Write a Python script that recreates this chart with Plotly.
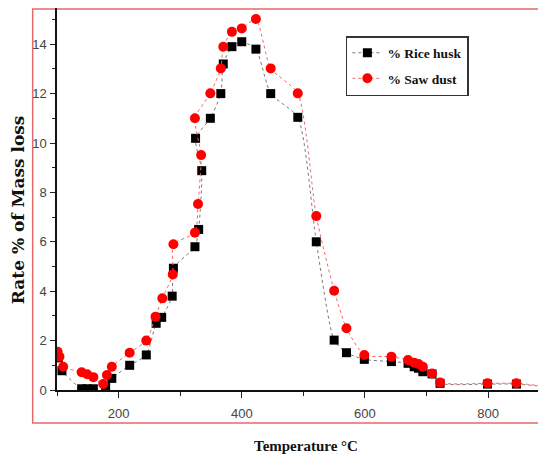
import plotly.graph_objects as go

# Data
rice_temp = [102, 108, 140, 149, 159, 179, 189, 218, 245, 261, 270, 287, 289, 324, 330, 335, 325,
             349, 366, 370, 384, 400, 423, 447, 491, 521, 550, 570, 599, 643, 670, 680, 687, 694,
             709, 722, 799, 846, 894]
rice_rate = [1.3, 0.78, 0.05, 0.05, 0.05, 0.13, 0.47, 1.0, 1.42, 2.7, 2.94, 3.8, 4.93, 5.8, 6.5,
             8.88, 10.19, 11.0, 12.0, 13.2, 13.9, 14.1, 13.8, 12.0, 11.04, 6.0, 2.02, 1.51, 1.24,
             1.15, 1.08, 0.94, 0.88, 0.74, 0.65, 0.27, 0.24, 0.24, 0.13]

saw_temp = [101, 104, 110, 140, 149, 159, 175, 181, 189, 218, 245, 260, 271, 288, 289, 324, 329,
            334, 324, 349, 366, 370, 384, 400, 423, 447, 491, 521, 550, 570, 599, 643, 670, 680,
            687, 694, 709, 722, 799, 846, 894]
saw_rate = [1.55, 1.35, 0.94, 0.72, 0.64, 0.52, 0.24, 0.61, 0.94, 1.51, 2.0, 2.97, 3.71, 4.68, 5.9,
            6.37, 7.53, 9.51, 11.0, 12.01, 13.02, 13.9, 14.5, 14.64, 15.02, 13.02, 12.01, 7.04,
            4.02, 2.5, 1.42, 1.35, 1.21, 1.1, 1.05, 0.94, 0.67, 0.3, 0.27, 0.27, 0.15]

series_names = ["% Rice husk", "% Saw dust"]
x_tickvals = [200, 400, 600, 800]
y_tickvals = [0, 2, 4, 6, 8, 10, 12, 14]

fig = go.Figure()
fig.add_trace(go.Scatter(
    x=rice_temp, y=rice_rate, name=series_names[0], mode="lines+markers",
    line=dict(color="#7a7a7a", width=1, dash="dot", shape="spline", smoothing=0.6),
    marker=dict(symbol="square", size=9, color="#000000"),
    legendgroup="a",
))
fig.add_trace(go.Scatter(
    x=saw_temp, y=saw_rate, name=series_names[1], mode="lines+markers",
    line=dict(color="#f06a6a", width=1, dash="dot", shape="spline", smoothing=0.6),
    marker=dict(symbol="circle", size=10, color="#ff0000"),
    legendgroup="b",
))

# page body has an 8px margin: work in reference pixels, shifted by OFF
OFF = 8
W, H = 538, 448
L, R, T, B = 49.3, 0, 0, 66
pw, ph = W - L - R, H - T - B

def px(xp):
    return (xp - OFF - L) / pw

def py(yp):
    return (H - B - (yp - OFF)) / ph

tickfont = dict(family="Liberation Sans Narrow, Arial Narrow, Liberation Sans, Arial", size=13, color="#444444")

fig.update_layout(
    template="none",
    width=W, height=H,
    margin=dict(l=L, r=R, t=T, b=B, pad=0),
    paper_bgcolor="white", plot_bgcolor="white",
    showlegend=True,
    legend=dict(
        x=px(346), y=py(36), xanchor="left", yanchor="top",
        bordercolor="#333333", borderwidth=1.5, bgcolor="white",
        font=dict(family="Liberation Serif, Times New Roman, serif", size=13.5, color="#111111", weight="bold"),
        tracegroupgap=5,
    ),
    xaxis=dict(
        range=[100, 894], autorange=False,
        tickvals=x_tickvals, ticks="outside", ticklen=6, tickwidth=1.2, tickcolor="#222",
        minor=dict(ticks="outside", ticklen=4, tickwidth=1.2, tickcolor="#222", dtick=100, tick0=100, showgrid=False),
        showline=True, linecolor="#111111", linewidth=1.5,
        showgrid=False, zeroline=False, automargin=False,
        tickfont=tickfont, ticklabelstandoff=5,
    ),
    yaxis=dict(
        range=[0, (H - B - T) / 24.7], autorange=False,
        tickvals=y_tickvals, ticks="outside", ticklen=5, tickwidth=1.2, tickcolor="#222",
        minor=dict(ticks="outside", ticklen=3, tickwidth=1.2, tickcolor="#222", dtick=1, tick0=0, showgrid=False),
        showline=True, linecolor="#111111", linewidth=1.5,
        showgrid=False, zeroline=False, automargin=False,
        tickfont=tickfont, ticklabelstandoff=1,
    ),
    shapes=[dict(
        type="rect", xref="paper", yref="paper",
        x0=px(33), x1=1.2, y0=py(423), y1=py(9),
        line=dict(color="#e86a6a", width=1.5), fillcolor="rgba(0,0,0,0)", layer="below",
    )],
    annotations=[
        dict(text="<b>Rate % of Mass loss</b>", xref="paper", yref="paper",
             x=px(18.5), y=py(210), textangle=-90, showarrow=False,
             xanchor="center", yanchor="middle",
             font=dict(family="DejaVu Serif, Liberation Serif, serif", size=17, color="#111111")),
        dict(text="<b>Temperature °C</b>", xref="paper", yref="paper",
             x=px(306.5), y=py(446), showarrow=False,
             xanchor="center", yanchor="middle",
             font=dict(family="Liberation Serif, Times New Roman, serif", size=15, color="#111111")),
    ],
)

fig.write_html("out.html")
